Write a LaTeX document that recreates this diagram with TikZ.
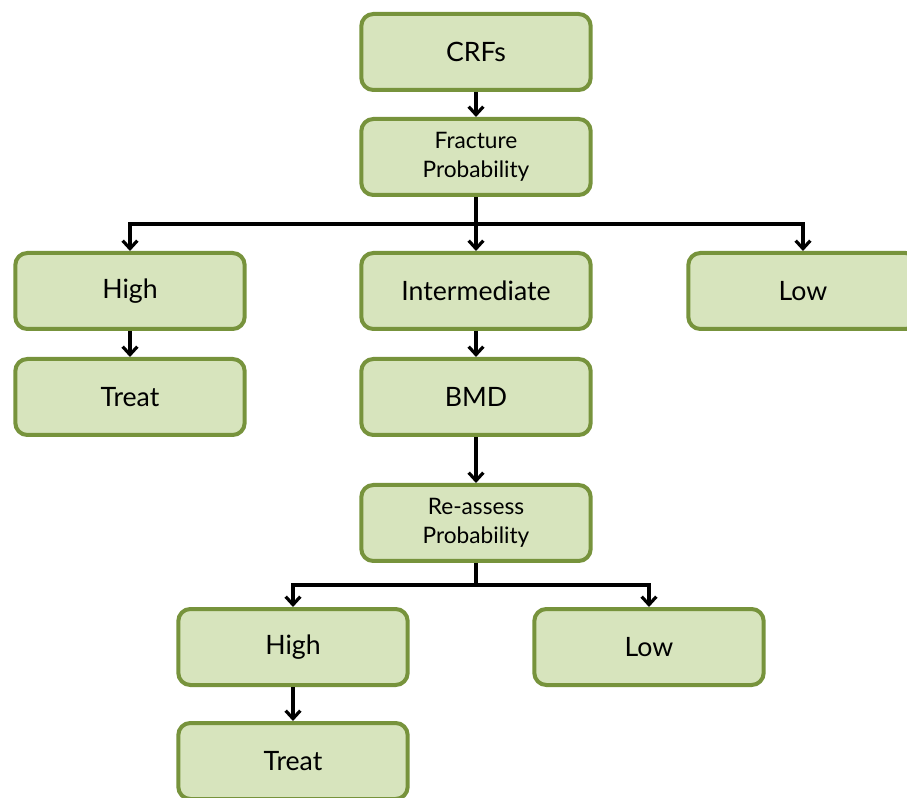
\documentclass[tikz,border=0pt]{standalone}
\usepackage{fontspec}
\setmainfont{Lato}
\usetikzlibrary{positioning,calc,arrows.meta}
\definecolor{boxfill}{HTML}{D7E4BD}
\definecolor{boxline}{HTML}{77933C}

\begin{document}
\begin{tikzpicture}[
box/.style={
  draw=boxline,
  fill=boxfill,
  line width=3pt,
  rounded corners=9pt,
  minimum width=172pt,
  minimum height=57pt,
  align=center,
  font=\fontsize{20}{24}\selectfont
  },
small/.style={
  font=\fontsize{17}{21.75}\selectfont
  },
link/.style={
  line width=2.4pt
  },
>={Straight Barb[length=6pt,width=11pt]},
on grid
]

\useasboundingbox (-357pt,39pt) rectangle (323.25pt,-559.5pt);

\node[box] (crf) {CRFs};
\node[box,small,below=78.75pt of crf] (frac) {Fracture\\Probability};
\node[box,below=100.5pt of frac] (inter) {Intermediate};
\node[box,left=259.5pt of inter] (high) {High};
\node[box,right=245.25pt of inter] (low) {Low};
\node[box,below=79.5pt of high] (treat) {Treat};
\node[box,below=79.5pt of inter] (bmd) {BMD};
\node[box,small,below=94.5pt of bmd] (reass) {Re-assess\\Probability};
\node[box,below left=93pt and 137.25pt of reass] (rhigh) {High};
\node[box,below right=93pt and 129.75pt of reass] (rlow) {Low};
\node[box,below=85.5pt of rhigh] (rtreat) {Treat};

% forks
\coordinate (fork) at ($(frac.south)!0.5!(inter.north)$);
\coordinate (rfork) at ($(reass.south)!0.5!(rhigh.north)$);

\draw[link,->] (crf) -- (frac);
\draw[link] (frac) -- (fork);
\draw[link,->] (fork) -| (high);
\draw[link,->] (fork) -- (inter);
\draw[link,->] (fork) -| (low);
\draw[link,->] (high) -- (treat);
\draw[link,->] (inter) -- (bmd);
\draw[link,->] (bmd) -- (reass);
\draw[link] (reass) -- (reass.south |- rfork);
\draw[link,->] (reass.south |- rfork) -| (rhigh);
\draw[link,->] (reass.south |- rfork) -| (rlow);
\draw[link,->] (rhigh) -- (rtreat);
\end{tikzpicture}
\end{document}
